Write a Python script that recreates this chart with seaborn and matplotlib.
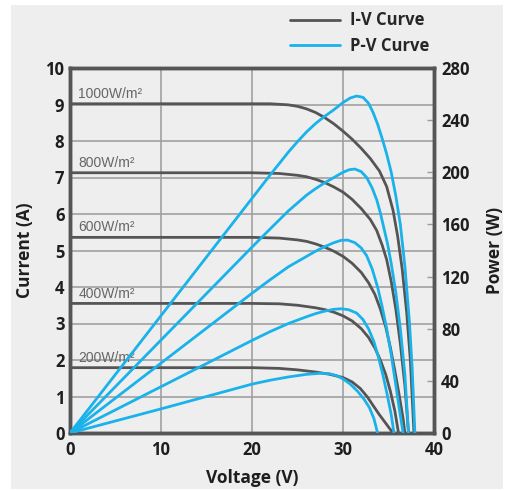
import matplotlib
matplotlib.use("Agg")
import matplotlib.pyplot as plt
from matplotlib.patches import Rectangle
from matplotlib.lines import Line2D
import seaborn as sns

# irradiance levels
levels = ["1000W/m²", "800W/m²", "600W/m²", "400W/m²", "200W/m²"]

# I-V curves (voltage V, current A)
iv_v_1000 = [0, 10, 20, 22, 24, 25, 26, 27, 28, 29, 30, 31, 32, 33, 34, 34.8, 35.5, 36, 36.5, 37, 37.4, 37.8]
iv_i_1000 = [9.02, 9.02, 9.02, 9.02, 8.99, 8.95, 8.88, 8.78, 8.64, 8.47, 8.27, 8.05, 7.8, 7.52, 7.18, 6.75, 6.1, 5.4, 4.5, 3.3, 2.0, 0]
iv_v_800 = [0, 10, 20, 23, 25, 26, 27, 28, 29, 30, 31, 32, 33, 33.7, 34.3, 34.8, 35.3, 35.8, 36.3, 36.8, 37.2]
iv_i_800 = [7.13, 7.13, 7.13, 7.11, 7.06, 7.02, 6.95, 6.86, 6.74, 6.6, 6.4, 6.15, 5.85, 5.55, 5.15, 4.75, 4.15, 3.4, 2.45, 1.3, 0]
iv_v_600 = [0, 10, 20, 23, 25, 26, 27, 28, 29, 30, 31, 32, 32.8, 33.5, 34.1, 34.7, 35.2, 35.7, 36.2, 36.6, 36.8]
iv_i_600 = [5.36, 5.36, 5.36, 5.34, 5.29, 5.25, 5.18, 5.09, 4.98, 4.84, 4.65, 4.4, 4.12, 3.8, 3.4, 2.9, 2.35, 1.7, 1.0, 0.4, 0]
iv_v_400 = [0, 10, 20, 23, 25, 27, 28, 29, 30, 31, 32, 32.8, 33.5, 34.1, 34.7, 35.2, 35.7, 36.1]
iv_i_400 = [3.55, 3.55, 3.55, 3.54, 3.5, 3.43, 3.38, 3.31, 3.21, 3.07, 2.86, 2.62, 2.33, 2.0, 1.6, 1.15, 0.6, 0]
iv_v_200 = [0, 10, 20, 23, 25, 27, 28.5, 30, 31, 31.9, 32.7, 33.4, 34, 34.6, 35.1, 35.5]
iv_i_200 = [1.79, 1.79, 1.79, 1.77, 1.73, 1.67, 1.61, 1.52, 1.4, 1.22, 0.98, 0.72, 0.5, 0.3, 0.13, 0]

# P-V curves (voltage V, power W)
pv_v_1000 = [0, 10, 20, 22, 24, 25, 26, 27, 28, 29, 30, 30.8, 31.5, 32.2, 32.8, 33.3, 33.8, 34.3, 34.8, 35.3, 35.8, 36.3, 36.8, 37.3, 37.6, 37.9]
pv_p_1000 = [0, 90, 180, 198, 215.5, 223.5, 231, 237.5, 243, 248, 253.5, 257, 258.5, 257.5, 253, 246, 237, 226, 214, 200, 182, 160, 128, 85, 50, 0]
pv_v_800 = [0, 10, 20, 22, 24, 26, 27, 28, 29, 30, 30.7, 31.3, 32, 32.6, 33.2, 33.7, 34.1, 34.5, 34.9, 35.3, 35.8, 36.3, 36.8, 37.2]
pv_p_800 = [0, 71.3, 142.6, 156.6, 170.4, 182.5, 187.5, 192, 196, 200, 202, 202.5, 200.5, 196, 188, 179, 169, 157, 145, 130, 108, 80, 45, 0]
pv_v_600 = [0, 10, 20, 22, 24, 26, 27, 28, 29, 29.8, 30.5, 31.3, 32, 32.6, 33.2, 33.8, 34.3, 34.8, 35.3, 35.8, 36.2, 36.6]
pv_p_600 = [0, 53.6, 107.2, 117.6, 127.5, 135.5, 139.5, 143, 146, 147.8, 148, 146, 142, 136, 126, 112, 97, 80, 60, 37, 18, 0]
pv_v_400 = [0, 10, 20, 22, 24, 26, 27, 28, 29, 29.8, 30.6, 31.5, 32.2, 32.8, 33.4, 33.9, 34.4, 34.9, 35.3, 35.6]
pv_p_400 = [0, 35.5, 71, 77.8, 84, 89.2, 91.6, 93.5, 94.9, 95.3, 94.6, 92, 87, 80, 70, 58, 44, 28, 14, 0]
pv_v_200 = [0, 10, 20, 22, 24, 26, 27.5, 28.5, 29.3, 30, 30.8, 31.6, 32.3, 32.9, 33.4, 33.8]
pv_p_200 = [0, 18.5, 37.5, 40.5, 43, 45, 45.8, 45.5, 44, 41.5, 37.5, 32, 26, 19.5, 11, 0]

iv_curves = [(iv_v_1000, iv_i_1000), (iv_v_800, iv_i_800), (iv_v_600, iv_i_600),
             (iv_v_400, iv_i_400), (iv_v_200, iv_i_200)]
pv_curves = [(pv_v_1000, pv_p_1000), (pv_v_800, pv_p_800), (pv_v_600, pv_p_600),
             (pv_v_400, pv_p_400), (pv_v_200, pv_p_200)]

sns.set_theme(style="white")
plt.rcParams['font.family'] = ['Open Sans', 'DejaVu Sans']

bg = "#eeeeee"
iv_color = "#555555"
pv_color = "#1ab2ea"
grid_color = "#a0a0a0"
text_color = "#1e1e1e"

fig = plt.figure(figsize=(5.11, 4.91), dpi=100, facecolor="white")
fig.patches.append(Rectangle((11 / 511, 2 / 491), 492 / 511, 484 / 491,
                             transform=fig.transFigure, facecolor=bg,
                             edgecolor="none", zorder=-10))
ax = fig.add_axes([70 / 511, 1 - 433 / 491, 364 / 511, 365 / 491])
ax.set_facecolor(bg)
ax2 = ax.twinx()

for (v, i) in iv_curves:
    sns.lineplot(x=v, y=i, ax=ax, color=iv_color, linewidth=2, sort=False,
                 estimator=None, legend=False, zorder=3)
for (v, p) in pv_curves:
    sns.lineplot(x=v, y=p, ax=ax2, color=pv_color, linewidth=2, sort=False,
                 estimator=None, legend=False, zorder=3)

for (v, i), name in zip(iv_curves, levels):
    ax.text(0.9, i[0] + 0.08, name, fontsize=10, color="#666666",
            family="Liberation Sans", va="bottom", ha="left", zorder=4)

ax.set_xlim(0, 40)
ax.set_ylim(0, 10)
ax2.set_ylim(0, 280)
ax.set_xticks([0, 10, 20, 30, 40])
ax.set_yticks(range(0, 11))
ax2.set_yticks(range(0, 281, 40))

ax.grid(True, color=grid_color, linewidth=1.2)
ax.set_axisbelow(True)
for a in (ax, ax2):
    for s in a.spines.values():
        s.set_color("#555555")
        s.set_linewidth(2.5)

ax.tick_params(axis="y", length=0, pad=4, labelsize=12, labelcolor=text_color)
ax.tick_params(axis="x", length=0, pad=6, labelsize=12, labelcolor=text_color)
ax2.tick_params(axis="y", direction="in", length=5, width=1, color="#999999",
                pad=5, labelsize=12, labelcolor=text_color)
for lab in ax.get_xticklabels() + ax.get_yticklabels() + ax2.get_yticklabels():
    lab.set_fontweight("bold")

ax.set_xlabel("Voltage (V)", fontsize=12.5, fontweight="bold", color=text_color, labelpad=7)
ax.set_ylabel("Current (A)", fontsize=12.5, fontweight="bold", color=text_color, labelpad=8)
ax2.set_ylabel("Power (W)", fontsize=12.5, fontweight="bold", color=text_color, labelpad=12)

handles = [Line2D([], [], color=iv_color, linewidth=2),
           Line2D([], [], color=pv_color, linewidth=2)]
fig.legend(handles, ["I-V Curve", "P-V Curve"], loc="upper left",
           bbox_to_anchor=(287 / 511, 1 - 8 / 491), frameon=False,
           borderpad=0.2, borderaxespad=0,
           handlelength=3.0, handletextpad=0.6, labelspacing=0.45,
           prop={"family": "Open Sans", "weight": "bold", "size": 12})

fig.savefig("out.png", dpi=100, facecolor="white")
